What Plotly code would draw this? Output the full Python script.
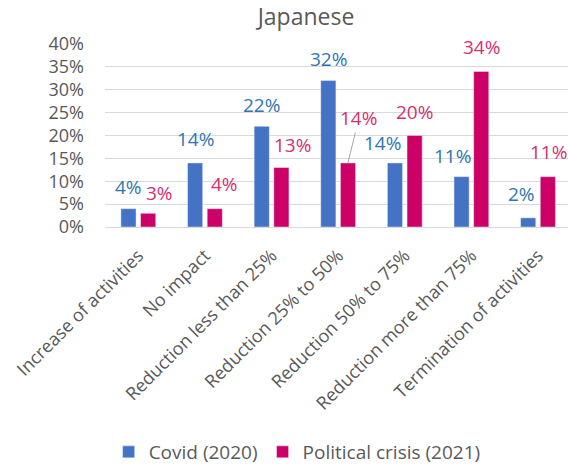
import plotly.graph_objects as go

# Impact categories and shares (%) for each period
categories = [
    "Increase of activities",
    "No impact",
    "Reduction less than 25%",
    "Reduction 25% to 50%",
    "Reduction 50% to 75%",
    "Reduction more than 75%",
    "Termination of activities",
]
covid_2020 = [4, 14, 22, 32, 14, 11, 2]
crisis_2021 = [3, 4, 13, 14, 20, 34, 11]
series_names = ["Covid (2020)", "Political crisis (2021)"]
y_ticks = [0, 5, 10, 15, 20, 25, 30, 35, 40]

BLUE = "#4472C4"
MAGENTA = "#CC0066"
BLUE_TXT = "#2E75B6"
MAGENTA_TXT = "#D6306E"
GREY = "#595959"
FONT = "Open Sans"

# pixel nudges for the value labels (dx, dy) so they don't collide
covid_nudge = [(0, 22), (0, 24), (0, 21), (0, 22), (-13, 20), (-9, 21), (-7, 24)]
crisis_nudge = [(11, 20), (10, 25), (11, 23), (11, 45), (0, 24), (0, 24), (1, 25)]
half_slot = 9.75  # px from category centre to each bar centre

fig = go.Figure()
fig.add_trace(go.Bar(x=categories, y=covid_2020, name=series_names[0],
                     marker_color=BLUE))
fig.add_trace(go.Bar(x=categories, y=crisis_2021, name=series_names[1],
                     marker_color=MAGENTA))

annotations = []
for values, nudge, side, color in [
    (covid_2020, covid_nudge, -1, BLUE_TXT),
    (crisis_2021, crisis_nudge, 1, MAGENTA_TXT),
]:
    for cat, v, (dx, dy) in zip(categories, values, nudge):
        ann = dict(x=cat, y=v, text=f"{v}%", xref="x", yref="y",
                   font=dict(family=FONT, size=19, color=color))
        if dy > 30:
            # label lifted clear of the neighbour, joined back by a leader line
            ann.update(showarrow=True, arrowhead=0, arrowwidth=1,
                       arrowcolor="#A6A6A6", ax=dx, ay=-dy,
                       xshift=side * half_slot, standoff=0)
        else:
            ann.update(showarrow=False, xshift=side * half_slot + dx,
                       yshift=dy, yanchor="middle")
        annotations.append(ann)

fig.update_layout(
    width=568, height=471,
    margin=dict(l=105, r=0, t=44, b=243),
    paper_bgcolor="white", plot_bgcolor="white",
    barmode="group", bargap=0.41, bargroupgap=0.23,
    title=dict(text="Japanese", x=306 / 568, xanchor="center",
               y=1 - 17 / 471, yanchor="middle",
               font=dict(family=FONT, size=23, color=GREY)),
    font=dict(family=FONT, color=GREY),
    showlegend=True,
    legend=dict(orientation="h", x=0.415, xanchor="center",
                y=-1.234, yanchor="middle",
                font=dict(family=FONT, size=19, color=GREY),
                itemwidth=30),
    annotations=annotations,
)
fig.update_xaxes(
    type="category", range=[-0.5, 6.45],
    tickangle=-45, tickfont=dict(family=FONT, size=18, color=GREY),
    showline=True, linecolor="#D9D9D9", linewidth=1,
    ticks="", showgrid=False,
    ticklabelstandoff=10,
)
fig.update_yaxes(
    range=[0, 40], tickvals=y_ticks, ticktext=[f"{t}%" for t in y_ticks],
    tickfont=dict(family=FONT, size=18, color=GREY),
    showgrid=True, gridcolor="#D9D9D9", gridwidth=1,
    zeroline=False, showline=False, ticks="",
    ticklabelstandoff=20,
)

fig.write_html("out.html")
